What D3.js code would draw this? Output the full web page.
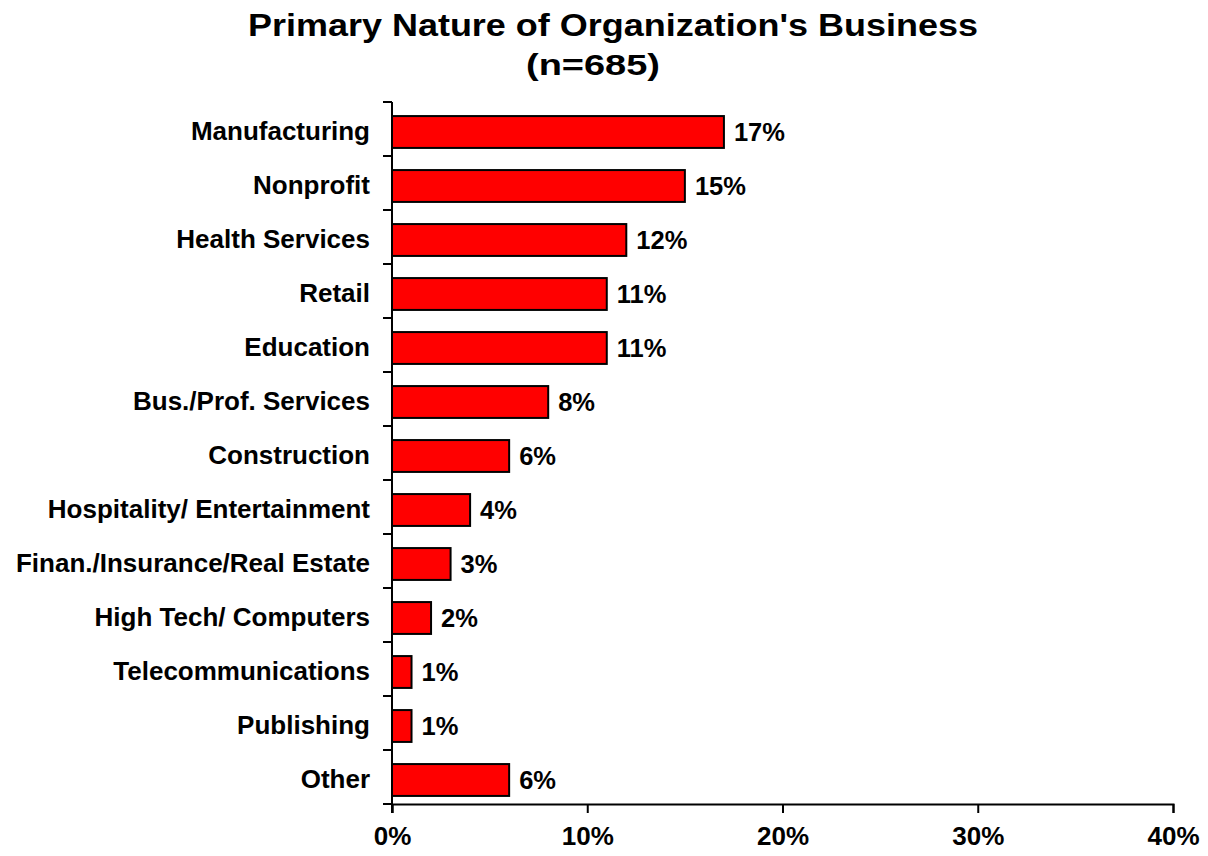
<!DOCTYPE html>
<html>
<head>
<meta charset="utf-8">
<script src="https://cdn.jsdelivr.net/npm/d3@7"></script>
<style>
  html, body { margin: 0; padding: 0; background: #fff; }
  svg { display: block; font-family: "Liberation Sans", Arial, sans-serif; }
</style>
</head>
<body>
<svg id="chart" width="1208" height="856"></svg>
<script>
// Industry categories, top to bottom
const categories = [
  "Manufacturing", "Nonprofit", "Health Services", "Retail", "Education",
  "Bus./Prof. Services", "Construction", "Hospitality/ Entertainment",
  "Finan./Insurance/Real Estate", "High Tech/ Computers",
  "Telecommunications", "Publishing", "Other "
];
// Share of respondents (%)
const shares = [17, 15, 12, 11, 11, 8, 6, 4, 3, 2, 1, 1, 6];
// Axis tick values (%)
const xTicks = [0, 10, 20, 30, 40];

const data = categories.map((c, i) => ({ category: c, value: shares[i] }));

const svg = d3.select("#chart");
const margin = { left: 392, right: 35, top: 102, bottom: 52 };
const width = 1208, height = 856;

const x = d3.scaleLinear()
  .domain([0, 40])
  .range([margin.left, width - margin.right]);

const y = d3.scaleBand()
  .domain(categories)
  .range([margin.top, height - margin.bottom])
  .paddingInner(0.41)
  .paddingOuter(0.205);

const barShift = 3;

// Title
svg.append("text")
  .attr("x", 248).attr("y", 36)
  .attr("font-size", 32).attr("font-weight", "bold")
  .attr("textLength", 730).attr("lengthAdjust", "spacingAndGlyphs")
  .text("Primary Nature of Organization's Business");
svg.append("text")
  .attr("x", 526).attr("y", 75)
  .attr("font-size", 30).attr("font-weight", "bold")
  .attr("textLength", 134).attr("lengthAdjust", "spacingAndGlyphs")
  .text("(n=685)");

// Bars
svg.append("g").selectAll("rect")
  .data(data)
  .join("rect")
  .attr("x", x(0))
  .attr("y", d => y(d.category) + barShift)
  .attr("width", d => x(d.value) - x(0))
  .attr("height", y.bandwidth())
  .attr("fill", "#ff0000")
  .attr("stroke", "#000")
  .attr("stroke-width", 2);

// Value labels
svg.append("g").selectAll("text")
  .data(data)
  .join("text")
  .attr("x", d => x(d.value) + 10)
  .attr("y", d => y(d.category) + barShift + y.bandwidth() / 2 + 9)
  .attr("font-size", 25.5).attr("font-weight", "bold")
  .text(d => d.value + "%");

// Category axis (ticks at band boundaries)
const yAxisG = svg.append("g");
yAxisG.append("line")
  .attr("x1", x(0)).attr("x2", x(0))
  .attr("y1", margin.top).attr("y2", height - margin.bottom + 9)
  .attr("stroke", "#000").attr("stroke-width", 2);
const step = y.step();
const boundaries = d3.range(categories.length + 1).map(i => margin.top + i * step);
yAxisG.selectAll("line.tick")
  .data(boundaries)
  .join("line")
  .attr("class", "tick")
  .attr("x1", x(0) - 9).attr("x2", x(0))
  .attr("y1", d => d).attr("y2", d => d)
  .attr("stroke", "#000").attr("stroke-width", 2);
yAxisG.selectAll("text")
  .data(categories)
  .join("text")
  .attr("x", x(0) - 22)
  .attr("y", d => y(d) + y.bandwidth() / 2 + 11)
  .attr("text-anchor", "end")
  .attr("font-size", 26).attr("font-weight", "bold")
  .text(d => d);

// Value axis
const xAxis = d3.axisBottom(x)
  .tickValues(xTicks)
  .tickFormat(d => d + "%")
  .tickSize(9)
  .tickPadding(14);
const xAxisG = svg.append("g")
  .attr("transform", `translate(0,${height - margin.bottom})`)
  .call(xAxis);
xAxisG.select(".domain").attr("stroke", "#000").attr("stroke-width", 2);
xAxisG.selectAll(".tick line").attr("stroke", "#000").attr("stroke-width", 2);
xAxisG.selectAll(".tick text")
  .attr("font-family", "Liberation Sans, Arial, sans-serif")
  .attr("font-size", 26).attr("font-weight", "bold")
  .attr("fill", "#000");
</script>
</body>
</html>
